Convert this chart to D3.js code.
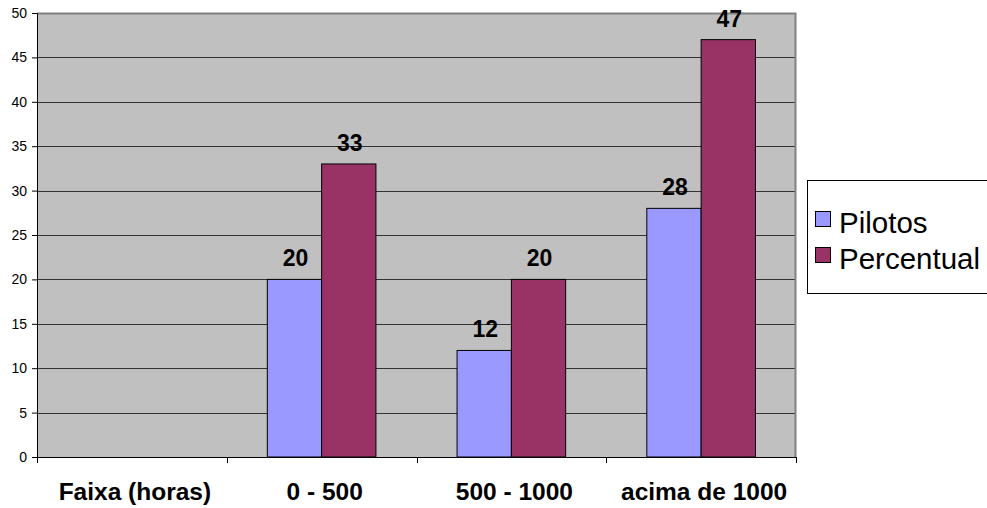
<!DOCTYPE html>
<html>
<head>
<meta charset="utf-8">
<script src="https://cdn.jsdelivr.net/npm/d3@7"></script>
<style>
  html, body { margin: 0; padding: 0; background: #fff; }
  svg { display: block; font-family: "Liberation Sans", Arial, sans-serif; }
</style>
</head>
<body>
<svg id="chart" width="987" height="508"></svg>
<script>
// Faixa de horas de voo: número de pilotos e percentual
const categories = ["Faixa (horas)", "0 - 500", "500 - 1000", "acima de 1000"];
const seriesNames = ["Pilotos", "Percentual"];
const pilotos = [null, 20, 12, 28];
const percentual = [null, 33, 20, 47];
const yTicks = [0, 5, 10, 15, 20, 25, 30, 35, 40, 45, 50];
const colors = ["#9999FF", "#993366"];

const svg = d3.select("#chart");
const plot = { left: 37, right: 796, top: 13, bottom: 457 };

const x0 = d3.scaleBand().domain(categories).range([plot.left, plot.right]).padding(0);
const x1 = d3.scaleBand().domain(seriesNames).range([0, x0.bandwidth()])
  .paddingInner(0).paddingOuter(0.747);
const y = d3.scaleLinear().domain([0, 50]).range([plot.bottom, plot.top]);

// plot background
svg.append("rect")
  .attr("x", plot.left).attr("y", plot.top)
  .attr("width", plot.right - plot.left).attr("height", plot.bottom - plot.top)
  .attr("fill", "#C0C0C0");

// horizontal gridlines
svg.append("g").selectAll("line")
  .data(yTicks.filter(t => t > 0 && t < 50))
  .join("line")
  .attr("x1", plot.left).attr("x2", plot.right)
  .attr("y1", d => Math.round(y(d)) + 0.5).attr("y2", d => Math.round(y(d)) + 0.5)
  .attr("stroke", "#333333").attr("stroke-width", 1);

// top and right frame
svg.append("path")
  .attr("d", `M${plot.left},${plot.top + 0.5}H${plot.right - 0.5}V${plot.bottom}`)
  .attr("fill", "none").attr("stroke", "#808080").attr("stroke-width", 2);

// bars
const rows = categories.map((c, i) => ({ cat: c, values: [pilotos[i], percentual[i]] }));
const groups = svg.append("g").selectAll("g")
  .data(rows).join("g")
  .attr("transform", d => `translate(${x0(d.cat)},0)`);

groups.selectAll("rect")
  .data(d => d.values.map((v, j) => ({ name: seriesNames[j], value: v, j })).filter(e => e.value != null))
  .join("rect")
  .attr("x", d => x1(d.name))
  .attr("y", d => y(d.value))
  .attr("width", x1.bandwidth())
  .attr("height", d => y(0) - y(d.value))
  .attr("fill", d => colors[d.j])
  .attr("stroke", "#000").attr("stroke-width", 1);

// value labels
groups.selectAll("text.value")
  .data(d => d.values.map((v, j) => ({ name: seriesNames[j], value: v })).filter(e => e.value != null))
  .join("text")
  .attr("class", "value")
  .attr("x", d => x1(d.name) + x1.bandwidth() / 2 + 1)
  .attr("y", d => y(d.value) - 13)
  .attr("text-anchor", "middle")
  .attr("font-size", 23).attr("font-weight", "bold").attr("fill", "#000")
  .text(d => d.value);

// y axis
const yAxis = svg.append("g")
  .attr("transform", `translate(${plot.left},0)`)
  .call(d3.axisLeft(y).tickValues(yTicks).tickSize(5).tickPadding(5).tickFormat(d3.format("d")));
yAxis.select(".domain").attr("stroke", "#000");
yAxis.selectAll(".tick line").attr("stroke", "#000");
yAxis.selectAll(".tick text").attr("font-size", 14).attr("fill", "#000")
  .attr("font-family", "'Liberation Sans', Arial, sans-serif");

// x axis: category labels at band centres, ticks on band boundaries
const xAxis = svg.append("g")
  .attr("transform", `translate(0,${plot.bottom})`)
  .call(d3.axisBottom(x0).tickSize(0).tickPadding(0).tickSizeOuter(0));
xAxis.select(".domain").remove();
xAxis.selectAll(".tick text")
  .attr("y", 43).attr("dy", 0).attr("dx", 3)
  .attr("font-size", 24.5).attr("font-weight", "bold").attr("fill", "#000")
  .attr("font-family", "'Liberation Sans', Arial, sans-serif");

const boundaries = categories.map(c => x0(c)).concat([plot.right]);
svg.append("line")
  .attr("x1", plot.left).attr("x2", plot.right)
  .attr("y1", plot.bottom + 0.5).attr("y2", plot.bottom + 0.5)
  .attr("stroke", "#000");
svg.append("g").selectAll("line")
  .data(boundaries).join("line")
  .attr("x1", d => Math.round(d) + 0.5).attr("x2", d => Math.round(d) + 0.5)
  .attr("y1", plot.bottom).attr("y2", plot.bottom + 6)
  .attr("stroke", "#000");

// legend
const legend = svg.append("g");
legend.append("rect")
  .attr("x", 807.5).attr("y", 180.5).attr("width", 190).attr("height", 113)
  .attr("fill", "#fff").attr("stroke", "#000");
const items = legend.selectAll("g.item")
  .data(seriesNames).join("g")
  .attr("class", "item")
  .attr("transform", (d, i) => `translate(815,${211 + i * 36})`);
items.append("rect")
  .attr("x", 0.5).attr("y", 0.5).attr("width", 15).attr("height", 15)
  .attr("fill", (d, i) => colors[i]).attr("stroke", "#000");
items.append("text")
  .attr("x", 24).attr("y", 21.5)
  .attr("font-size", 29.5).attr("fill", "#000")
  .text(d => d);
</script>
</body>
</html>
